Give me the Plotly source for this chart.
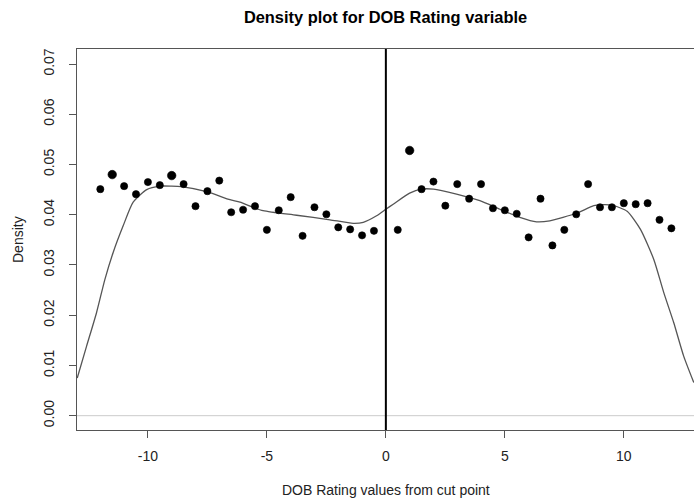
import plotly.graph_objects as go

# ---- data ----
point_x = [-12, -11.5, -11, -10.5, -10, -9.5, -9, -8.5, -8, -7.5, -7, -6.5,
           -6, -5.5, -5, -4.5, -4, -3.5, -3, -2.5, -2, -1.5, -1, -0.5,
           0.5, 1, 1.5, 2, 2.5, 3, 3.5, 4, 4.5, 5, 5.5, 6,
           6.5, 7, 7.5, 8, 8.5, 9, 9.5, 10, 10.5, 11, 11.5, 12]
point_y = [0.0451, 0.0480, 0.0457, 0.0441, 0.0465, 0.0459, 0.0478, 0.0461,
           0.0417, 0.0447, 0.0468, 0.0405, 0.0410, 0.0417, 0.0370, 0.0409,
           0.0435, 0.0358, 0.0415, 0.0401, 0.0375, 0.0371, 0.0359, 0.0368,
           0.0370, 0.0528, 0.0451, 0.0466, 0.0418, 0.0461, 0.0432, 0.0461,
           0.0413, 0.0409, 0.0402, 0.0355, 0.0432, 0.0339, 0.0370, 0.0401,
           0.0461, 0.0415, 0.0415, 0.0423, 0.0421, 0.0423, 0.0390, 0.0373]

curve_x = [-12.97, -12.58, -12.16, -11.81, -11.46, -11.04, -10.62, -10.05,
           -9.5, -9.0, -8.6, -7.53, -6.55, -6.13, -5.16, -3.75, -2.35,
           -1.37, -0.95, -0.39, 0.0, 0.31, 1.0, 1.48, 2.0, 2.97, 3.95,
           4.79, 5.63, 6.33, 6.89, 8.01, 8.74, 9.2, 9.58, 10.14, 10.70,
           11.26, 11.68, 12.10, 12.52, 12.94]
curve_y = [0.0075, 0.0138, 0.0205, 0.0271, 0.0325, 0.0378, 0.0425, 0.0450,
           0.0457, 0.0457, 0.0456, 0.0446, 0.0430, 0.0425, 0.0408, 0.0399,
           0.0390, 0.0383, 0.0385, 0.0398, 0.0411, 0.0421, 0.0443, 0.0451,
           0.0451, 0.0441, 0.0428, 0.0411, 0.0395, 0.0386, 0.0388, 0.0403,
           0.0418, 0.0420, 0.0418, 0.0407, 0.0371, 0.0311, 0.0245, 0.0185,
           0.0118, 0.0066]

x_ticks = [-10, -5, 0, 5, 10]
y_ticks = [0.00, 0.01, 0.02, 0.03, 0.04, 0.05, 0.06, 0.07]
y_tick_labels = ["0.00", "0.01", "0.02", "0.03", "0.04", "0.05", "0.06", "0.07"]

title_text = "Density plot for DOB Rating variable"
x_title = "DOB Rating values from cut point"
y_title = "Density"

# ---- style ----
FONT = "Liberation Sans, Arial, sans-serif"
TXT = "#222222"
AX = "#555555"
big_points = {-11.5, -9.0, 1.0}
marker_sizes = [8.5 if x in big_points else 7.2 for x in point_x]

fig = go.Figure()

fig.add_trace(go.Scatter(
    x=curve_x, y=curve_y, mode="lines",
    line=dict(color="#555555", width=1.3, shape="spline", smoothing=0.6),
    hoverinfo="skip", showlegend=False))

fig.add_trace(go.Scatter(
    x=point_x, y=point_y, mode="markers",
    marker=dict(color="#000000", size=marker_sizes, opacity=1,
                line=dict(width=0.6, color="#000000")),
    showlegend=False))

# horizontal gray line at zero, vertical black line at cut point
fig.add_shape(type="line", xref="paper", yref="y", x0=0, x1=1, y0=0, y1=0,
              line=dict(color="#cccccc", width=1), layer="below")
fig.add_shape(type="line", xref="x", yref="paper", x0=0, x1=0, y0=0, y1=1,
              line=dict(color="black", width=2))

fig.update_layout(
    width=694, height=504,
    margin=dict(l=77, r=0, t=49, b=74),
    paper_bgcolor="white", plot_bgcolor="white",
    font=dict(family=FONT, size=14, color=TXT),
    title=dict(text="<b>" + title_text + "</b>", x=0.5, xref="paper",
               y=1 - 17 / 504, yref="container", xanchor="center",
               yanchor="middle", font=dict(size=16.4, color="black", family=FONT)),
    xaxis=dict(range=[-12.98, 12.95], tickvals=x_ticks,
               ticktext=[str(v) for v in x_ticks],
               ticks="outside", ticklen=7, tickcolor=AX, tickwidth=1,
               showline=True, linecolor=AX, linewidth=1, mirror=True,
               showgrid=False, zeroline=False, ticklabelstandoff=6,
               tickfont=dict(size=14, color=TXT)),
    yaxis=dict(range=[-0.00285, 0.0730], tickvals=y_ticks, ticktext=y_tick_labels,
               tickangle=-90, ticks="outside", ticklen=7, tickcolor=AX,
               tickwidth=1, showline=True, linecolor=AX, linewidth=1,
               showgrid=False, zeroline=False, ticklabelstandoff=9,
               tickfont=dict(size=14, color=TXT)),
    annotations=[
        dict(text=x_title, xref="paper", yref="paper", x=0.5, y=-(490 - 430) / 381,
             xanchor="center", yanchor="middle", showarrow=False,
             font=dict(size=14, color=TXT, family=FONT)),
        dict(text=y_title, xref="paper", yref="paper", x=(18 - 77) / 617, y=(430 - 240) / 381,
             xanchor="center", yanchor="middle", textangle=-90, showarrow=False,
             font=dict(size=14, color=TXT, family=FONT)),
    ],
)

fig.write_html("out.html")
